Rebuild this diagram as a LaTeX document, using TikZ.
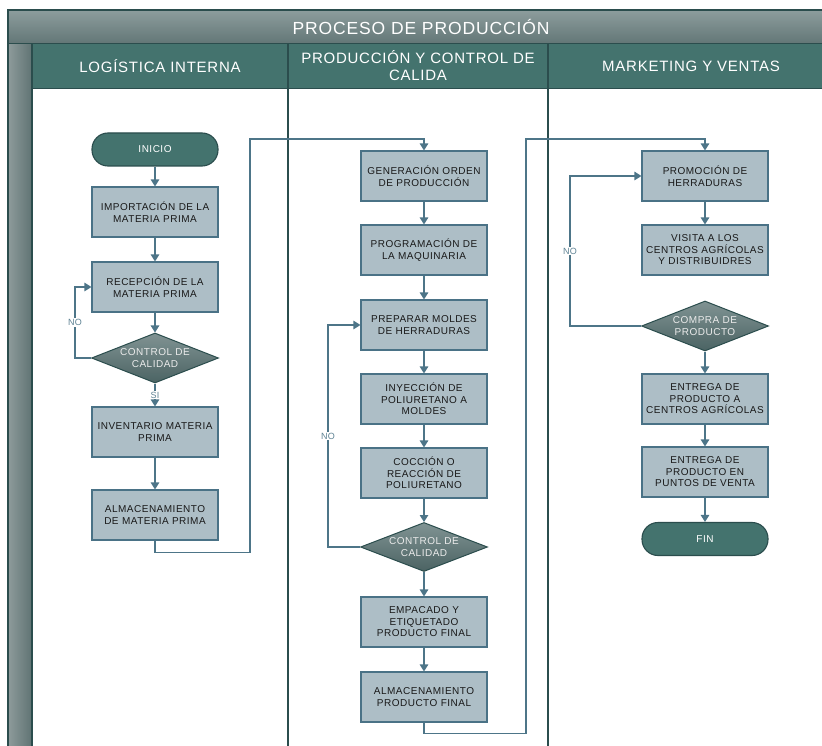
\documentclass[tikz,border=0pt]{standalone}
\usepackage{fontspec}
\setmainfont{Liberation Sans}
\newfontfamily\flowfont[LetterSpace=5]{Liberation Sans}
\usetikzlibrary{positioning,calc,arrows.meta,shapes.geometric}

\definecolor{laneteal}{HTML}{44736E}
\definecolor{laneline}{HTML}{2B4D4D}
\definecolor{boxfill}{HTML}{ADBEC6}
\definecolor{boxline}{HTML}{4A7286}
\definecolor{flowline}{HTML}{4D7588}
\definecolor{titletop}{HTML}{8D9D9D}
\definecolor{titlebot}{HTML}{627676}
\definecolor{striplight}{HTML}{8E9B9B}
\definecolor{stripdark}{HTML}{5F7373}
\definecolor{dectop}{HTML}{809393}
\definecolor{decbot}{HTML}{4B6363}

\begin{document}
\begin{tikzpicture}[
  x=1pt, y=-1pt,
  >={Triangle[width=8.5pt,length=7pt]},
  proc/.style={draw=boxline, line width=1.1pt, fill=boxfill, text=black!90,
    minimum width=126pt, minimum height=50pt, inner sep=0pt,
    text width=122pt, align=center, font=\flowfont\fontsize{10}{11.5}\selectfont},
  term/.style={draw=laneline, line width=1.1pt, fill=laneteal, text=white,
    rounded corners=16pt, minimum width=126pt, minimum height=33pt,
    font=\flowfont\fontsize{10}{11.5}\selectfont},
  decision/.style={diamond, draw=laneline, line width=1pt,
    top color=dectop, bottom color=decbot,
    minimum width=127pt, minimum height=50pt, inner sep=0pt},
  dlabel/.style={text=white!92!black, align=center, inner sep=0pt,
    font=\flowfont\fontsize{10}{11.5}\selectfont},
  flow/.style={draw=flowline, line width=1.2pt, ->},
  answer/.style={fill=white, text=flowline!90!white, inner sep=1pt,
    font=\flowfont\fontsize{9}{10}\selectfont},
  lanehead/.style={text=white, align=center,
    font=\flowfont\fontsize{15}{17}\selectfont}
]
  \useasboundingbox (0,0) rectangle (822,746);
  \def\xa{155} \def\xb{424} \def\xc{705}

  % Swimlane frame
  \fill[white] (8,10) rectangle (830,760);
  \shade[top color=titletop, bottom color=titlebot] (8,10) rectangle (830,44);
  \fill[laneteal] (32,44) rectangle (830,88);
  \shade[left color=striplight, right color=stripdark] (8,44) rectangle (32,760);
  \draw[laneline, line width=1.2pt] (8,760) -- (8,10) -- (830,10);
  \draw[laneline, line width=1pt] (8,44) -- (830,44);
  \draw[laneline, line width=0.8pt] (32,88) -- (830,88);
  \draw[laneline, line width=1.6pt] (32,44) -- (32,760);
  \draw[laneline, line width=1.6pt] (288,44) -- (288,760);
  \draw[laneline, line width=1.6pt] (548,44) -- (548,760);

  \node[lanehead, font=\flowfont\fontsize{17.5}{20}\selectfont] (titulo) at (421,27) {PROCESO DE PRODUCCIÓN};
  \node[lanehead] (lane1) at (160,66) {LOGÍSTICA INTERNA};
  \node[lanehead] (lane2) at (418,66) {PRODUCCIÓN Y CONTROL DE\\CALIDA};
  \node[lanehead] (lane3) at (691,66) {MARKETING Y VENTAS};

  % Logistica interna
  \node[term] (inicio) at (\xa,149.5) {INICIO};
  \node[proc] (imp) at (\xa,212) {IMPORTACIÓN DE LA\\MATERIA PRIMA};
  \node[proc] (rec) at (\xa,287) {RECEPCIÓN DE LA\\MATERIA PRIMA};
  \node[decision, label={[dlabel]center:{CONTROL DE\\CALIDAD}}] (cc1) at (\xa,358) {};
  \node[proc] (inv) at (\xa,432) {INVENTARIO MATERIA\\PRIMA};
  \node[proc] (alm1) at (\xa,515) {ALMACENAMIENTO\\DE MATERIA PRIMA};

  % Produccion y control de calidad
  \node[proc] (gen) at (\xb,176) {GENERACIÓN ORDEN\\DE PRODUCCIÓN};
  \node[proc] (prog) at (\xb,250) {PROGRAMACIÓN DE\\LA MAQUINARIA};
  \node[proc] (prep) at (\xb,325) {PREPARAR MOLDES\\DE HERRADURAS};
  \node[proc] (iny) at (\xb,399) {INYECCIÓN DE\\POLIURETANO A\\MOLDES};
  \node[proc] (coc) at (\xb,473) {COCCIÓN O\\REACCIÓN DE\\POLIURETANO};
  \node[decision, minimum height=49pt, label={[dlabel]center:{CONTROL DE\\CALIDAD}}] (cc2) at (\xb,547) {};
  \node[proc] (emp) at (\xb,622) {EMPACADO Y\\ETIQUETADO\\PRODUCTO FINAL};
  \node[proc] (alm2) at (\xb,697) {ALMACENAMIENTO\\PRODUCTO FINAL};

  % Marketing y ventas
  \node[proc] (promo) at (\xc,176) {PROMOCIÓN DE\\HERRADURAS};
  \node[proc] (visita) at (\xc,250) {VISITA A LOS\\CENTROS AGRÍCOLAS\\Y DISTRIBUIDRES};
  \node[decision, label={[dlabel]center:{COMPRA DE\\PRODUCTO}}] (compra) at (\xc,326) {};
  \node[proc] (ent1) at (\xc,399) {ENTREGA DE\\PRODUCTO A\\CENTROS AGRÍCOLAS};
  \node[proc] (ent2) at (\xc,472) {ENTREGA DE\\PRODUCTO EN\\PUNTOS DE VENTA};
  \node[term] (fin) at (\xc,539) {FIN};

  % Flow lane 1
  \draw[flow] (inicio) -- (imp);
  \draw[flow] (imp) -- (rec);
  \draw[flow] (rec) -- (cc1);
  \draw[flow] (cc1) -- node[answer] {SI} (inv);
  \draw[flow] (cc1.west) -- ++(-16,0) |- node[answer, pos=0.25] {NO} (rec.west);
  \draw[flow] (inv) -- (alm1);
  \draw[flow] (alm1.south) -- ++(0,12) -| (250,139) -| (gen.north);

  % Flow lane 2
  \draw[flow] (gen) -- (prog);
  \draw[flow] (prog) -- (prep);
  \draw[flow] (prep) -- (iny);
  \draw[flow] (iny) -- (coc);
  \draw[flow] (coc) -- (cc2);
  \draw[flow] (cc2.west) -- ++(-32,0) |- node[answer, pos=0.25] {NO} (prep.west);
  \draw[flow] (cc2) -- (emp);
  \draw[flow] (emp) -- (alm2);
  \draw[flow] (alm2.south) -- ++(0,11) -| (526,139) -| (promo.north);

  % Flow lane 3
  \draw[flow] (promo) -- (visita);
  \draw[flow] (compra.west) -- ++(-71,0) |- node[answer, pos=0.25] {NO} (promo.west);
  \draw[flow] (compra) -- (ent1);
  \draw[flow] (ent1) -- (ent2);
  \draw[flow] (ent2) -- (fin);
\end{tikzpicture}
\end{document}
